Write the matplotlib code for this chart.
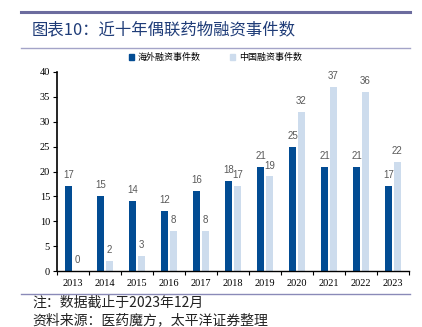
import numpy as np
import matplotlib
matplotlib.use("Agg")
import matplotlib.pyplot as plt
from matplotlib.lines import Line2D
from matplotlib.patches import Patch

plt.rcParams['font.family'] = ['Noto Sans CJK SC', 'DejaVu Sans']

# data
years = ["2013", "2014", "2015", "2016", "2017", "2018",
         "2019", "2020", "2021", "2022", "2023"]
overseas = [17, 15, 14, 12, 16, 18, 21, 25, 21, 21, 17]
china = [0, 2, 3, 8, 8, 17, 19, 32, 37, 36, 22]
yticks = [0, 5, 10, 15, 20, 25, 30, 35, 40]

title = "图表10：近十年偶联药物融资事件数"
label_overseas = "海外融资事件数"
label_china = "中国融资事件数"
note = "注：数据截止于2023年12月"
source = "资料来源：医药魔方，太平洋证券整理"

DARK = "#024c93"
LIGHT = "#cddced"
NAVY = "#1f3c78"
LINE = "#6c6c9e"

fig = plt.figure(figsize=(4.22, 3.27), dpi=100)
ax = fig.add_axes([0.135, 0.171, 0.834, 0.609])

x = np.arange(len(years))
w = 0.22
off = 0.14
b1 = ax.bar(x - off, overseas, w, color=DARK)
b2 = ax.bar(x + off, china, w, color=LIGHT)

for rects, vals in ((b1, overseas), (b2, china)):
    for r, v in zip(rects, vals):
        ax.text(r.get_x() + r.get_width() / 2, v + 1.2, str(v),
                ha="center", va="bottom", fontsize=7, color="#595959",
                family=["Liberation Sans", "DejaVu Sans"])

ax.set_xlim(-0.5, len(years) - 0.5)
ax.set_ylim(0, 40)
ax.set_yticks(yticks)
ax.set_xticks(x)
ax.set_xticklabels(years)
ax.set_xticks(np.arange(len(years) + 1) - 0.5, minor=True)
ax.tick_params(axis="x", which="major", length=0, pad=6)
ax.tick_params(axis="x", which="minor", length=3, width=0.8, direction="out")
ax.tick_params(axis="y", length=3, width=0.8, direction="out", pad=2)
for lab in ax.get_xticklabels() + ax.get_yticklabels():
    lab.set_family(["Liberation Serif", "DejaVu Serif"])
    lab.set_fontsize(7.5)
for s in ("top", "right"):
    ax.spines[s].set_visible(False)
ax.spines["left"].set_linewidth(1.2)
ax.spines["bottom"].set_linewidth(1.0)

handles = [Patch(color=DARK), Patch(color=LIGHT)]
fig.legend(handles, [label_overseas, label_china], loc="center",
           bbox_to_anchor=(0.51, 0.823), ncol=2, frameon=False,
           fontsize=6.5, handlelength=0.6, handleheight=0.6,
           handletextpad=0.4, columnspacing=3.2)

# header / footer rules
fig.add_artist(Line2D([0.05, 0.972], [0.964, 0.964], color=LINE, lw=2.2))
fig.add_artist(Line2D([0.05, 0.972], [0.853, 0.853], color="#a4a4c8", lw=1.0))
fig.add_artist(Line2D([0.05, 0.972], [0.101, 0.101], color="#8a8ab8", lw=1.0))

fig.text(0.076, 0.908, title, fontsize=11.8, color=NAVY, va="center")
fig.text(0.076, 0.073, note, fontsize=10, color="#222222", va="center")
fig.text(0.076, 0.020, source, fontsize=10, color="#222222", va="center")

fig.savefig("out.png", dpi=100)
